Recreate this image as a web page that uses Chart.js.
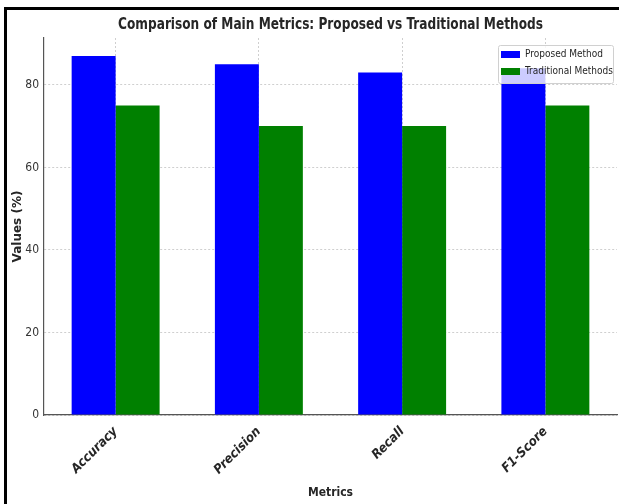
<!DOCTYPE html>
<html>
<head>
<meta charset="utf-8">
<script src="https://cdn.jsdelivr.net/npm/chart.js@4.4.0/dist/chart.umd.min.js"></script>
<style>
  html, body { margin: 0; padding: 0; background: #fff; }
  #wrap { position: relative; width: 619px; height: 504px; overflow: hidden; }
  #frame { position: absolute; left: 4px; top: 7px; width: 700px; height: 600px;
           border-left: 3px solid #000; border-top: 3px solid #000; pointer-events: none; }
  canvas { position: absolute; left: 0; top: 0; }
</style>
</head>
<body>
<div id="wrap">
  <canvas id="chart" width="619" height="504"></canvas>
  <div id="frame"></div>
</div>
<script>
// data
const metrics = ['Accuracy', 'Precision', 'Recall', 'F1-Score'];
const proposed = [87, 85, 83, 84];
const traditional = [75, 70, 70, 75];
const yTicks = [0, 20, 40, 60, 80];

const FONT = "'DejaVu Sans Condensed', 'DejaVu Sans', sans-serif";
const TEXT = '#262626';

// legend sits inside the plot, upper right, drawn over the bars
const insideLegend = {
  id: 'insideLegend',
  afterDatasetsDraw(chart) {
    const ctx = chart.ctx;
    const x = 498, y = 45, w = 115, h = 38;
    ctx.save();
    ctx.fillStyle = 'rgba(255,255,255,0.8)';
    ctx.strokeStyle = '#d0d0d0';
    ctx.lineWidth = 1;
    ctx.beginPath();
    ctx.roundRect(x + 0.5, y + 0.5, w, h, 2);
    ctx.fill();
    ctx.stroke();
    ctx.font = '10px ' + FONT;
    ctx.textBaseline = 'middle';
    chart.data.datasets.forEach((ds, i) => {
      const ry = y + 6 + i * 17;
      ctx.fillStyle = ds.backgroundColor;
      ctx.fillRect(x + 3, ry, 19, 7);
      ctx.fillStyle = TEXT;
      ctx.fillText(ds.label, x + 27, ry + 3.5);
    });
    ctx.restore();
  }
};

// title centred over the plot area, squeezed a little like the picture
const plotTitle = {
  id: 'plotTitle',
  afterDraw(chart) {
    const ctx = chart.ctx, a = chart.chartArea;
    ctx.save();
    ctx.translate((a.left + a.right) / 2, 25);
    ctx.scale(0.9, 1);
    ctx.font = 'bold 15px ' + FONT;
    ctx.fillStyle = TEXT;
    ctx.textAlign = 'center';
    ctx.textBaseline = 'middle';
    ctx.fillText('Comparison of Main Metrics: Proposed vs Traditional Methods', 0, 0);
    ctx.restore();
  }
};

new Chart(document.getElementById('chart'), {
  type: 'bar',
  data: {
    labels: metrics,
    datasets: [
      { label: 'Proposed Method', data: proposed, backgroundColor: '#0000ff' },
      { label: 'Traditional Methods', data: traditional, backgroundColor: '#008000' }
    ]
  },
  options: {
    responsive: false,
    animation: false,
    devicePixelRatio: 1,
    layout: { padding: { top: 38, right: 2, left: 11, bottom: 0 } },
    datasets: { bar: { categoryPercentage: 0.614, barPercentage: 1.0, borderWidth: 0 } },
    plugins: { legend: { display: false }, title: { display: false }, tooltip: { enabled: false } },
    scales: {
      x: {
        offset: true,
        grid: { offset: false, color: '#cfcfcf', lineWidth: 1, drawTicks: false },
        border: { display: true, color: '#555', width: 1.2, dash: [2, 2] },
        ticks: {
          maxRotation: 45, minRotation: 45, padding: 9, color: TEXT,
          font: { family: FONT, size: 13, weight: 'bold', style: 'italic' }
        },
        title: { display: true, text: 'Metrics', color: TEXT, padding: { top: 0, bottom: 4 },
                 font: { family: FONT, size: 12, weight: 'bold' } },
        afterFit(scale) { scale.height = 89; }
      },
      y: {
        min: 0,
        max: 91.35,
        afterBuildTicks(scale) { scale.ticks = yTicks.map(v => ({ value: v })); },
        grid: { color: '#cfcfcf', lineWidth: 1, drawTicks: false },
        border: { display: true, color: '#555', width: 1.2, dash: [2, 2] },
        ticks: { padding: 5, color: '#333', font: { family: FONT, size: 12 } },
        title: { display: true, text: 'Values (%)', color: TEXT, padding: { top: 0, bottom: 2 },
                 font: { family: "'DejaVu Sans', sans-serif", size: 12, weight: 'bold' } },
        afterFit(scale) { scale.width = 33; }
      }
    }
  },
  plugins: [insideLegend, plotTitle]
});
</script>
</body>
</html>
